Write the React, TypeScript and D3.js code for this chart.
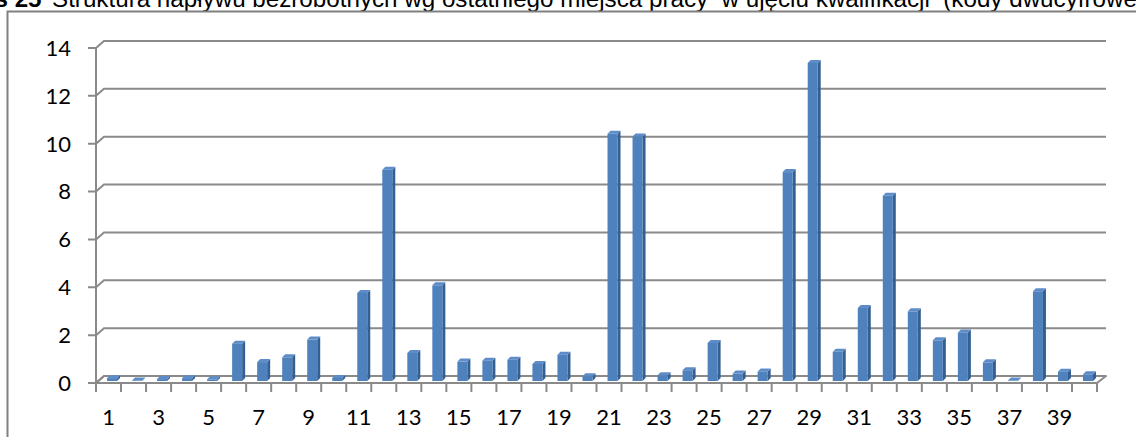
import React from "react";
import * as d3 from "d3";

const categories: number[] = Array.from({ length: 40 }, (_, i) => i + 1);
const values: number[] = [
  0.12, 0.02, 0.08, 0.12, 0.07, 1.56, 0.79, 0.99, 1.73, 0.13,
  3.68, 8.83, 1.17, 4.0, 0.81, 0.85, 0.89, 0.71, 1.1, 0.2,
  10.33, 10.22, 0.24, 0.45, 1.59, 0.31, 0.4, 8.73, 13.29, 1.22,
  3.05, 7.74, 2.91, 1.7, 2.03, 0.78, 0.02, 3.75, 0.39, 0.28,
];
const yTicks: number[] = [0, 2, 4, 6, 8, 10, 12, 14];
const xLabels: number[] = categories.filter((c) => c % 2 === 1);
const titleBold = "s 25";
const titleText =
  "Struktura napływu bezrobotnych wg ostatniego miejsca pracy  w ujęciu kwalifikacji  (kody dwucyfrowe)";

export default function App() {
  const W = 1136;
  const H = 437;
  const x0 = 96;
  const x1 = 1097;
  const yBottom = 383;
  const yTop = 48;
  const dx = 8;
  const dy = -7;

  const x = d3.scaleBand<number>().domain(categories).range([x0, x1]).paddingInner(0).paddingOuter(0);
  const y = d3.scaleLinear().domain([0, 14]).range([yBottom, yTop]);
  const bw = x.bandwidth();

  const barW = 10;
  const barD = 3;
  const barShiftY = -2;

  const grid = "#8a8a8a";
  const labelFont = "Lato, 'Noto Sans', sans-serif";
  const titleFont = "'Liberation Sans', Arial, sans-serif";

  return (
    <svg
      width={W}
      height={H}
      style={{ position: "absolute", left: 0, top: 0, background: "#fff" }}
      xmlns="http://www.w3.org/2000/svg"
    >
      <rect x={0} y={0} width={W} height={H} fill="#fff" />
      {/* title */}
      <text x={-5.5} y={6.5} fontFamily={titleFont} fontSize={24.2} fontWeight="bold" fill="#000">
        {titleBold}
      </text>
      <text x={52} y={6.5} fontFamily={titleFont} fontSize={24.2} fill="#000" style={{ whiteSpace: "pre" }} xmlSpace="preserve">
        {titleText}
      </text>
      {/* frame */}
      <path d={`M7.5,${H} V11.5 H${W}`} fill="none" stroke="#808080" strokeWidth={2} />

      {/* floor */}
      <polygon
        points={`${x0},${y(0)} ${x1},${y(0)} ${x1 + dx + 1},${y(0) + dy} ${x0 + dx},${y(0) + dy}`}
        fill="#fff"
        stroke={grid}
        strokeWidth={2}
        strokeLinejoin="round"
      />

      {/* gridlines */}
      {yTicks.map((t) => (
        <path
          key={"g" + t}
          d={`M${x0 - 8},${y(t)} H${x0} L${x0 + dx},${y(t) + dy} H${x1 + dx + 1}`}
          fill="none"
          stroke={grid}
          strokeWidth={2}
        />
      ))}
      {/* y axis line */}
      <line x1={x0} x2={x0} y1={y(14)} y2={y(0)} stroke={grid} strokeWidth={2} />
      {/* x ticks */}
      {d3.range(0, categories.length + 1).map((i) => {
        const xx = x0 + i * bw;
        return <line key={"xt" + i} x1={xx} x2={xx} y1={y(0)} y2={y(0) + 9} stroke={grid} strokeWidth={2} />;
      })}
      <line x1={x0} x2={x1} y1={y(0)} y2={y(0)} stroke={grid} strokeWidth={2} />

      {/* bars */}
      {categories.map((c, i) => {
        const v = values[i];
        const cx = (x(c) as number) + bw / 2;
        const left = cx - 1.5;
        const right = left + barW;
        const base = y(0) + barShiftY;
        const top = y(v) + barShiftY;
        return (
          <g key={"b" + c}>
            <polygon
              points={`${right},${top} ${right + barD},${top - barD} ${right + barD},${base - barD} ${right},${base}`}
              fill="#335f93"
            />
            <polygon
              points={`${left},${top} ${left + barD},${top - barD} ${right + barD},${top - barD} ${right},${top}`}
              fill="#5d8cc8"
            />
            <rect x={left} y={top} width={barW} height={Math.max(base - top, 0.01)} fill="#4f81bd" />
          </g>
        );
      })}

      {/* y labels */}
      {yTicks.map((t) => (
        <text
          key={"yl" + t}
          x={71}
          y={y(t) + 7.8}
          textAnchor="end"
          fontFamily={labelFont}
          fontSize={22}
          fill="#000"
        >
          {t}
        </text>
      ))}
      {/* x labels */}
      {xLabels.map((c) => (
        <text
          key={"xl" + c}
          x={(x(c) as number) + bw / 2}
          y={425}
          textAnchor="middle"
          fontFamily={labelFont}
          fontSize={22}
          fill="#000"
        >
          {c}
        </text>
      ))}
    </svg>
  );
}
